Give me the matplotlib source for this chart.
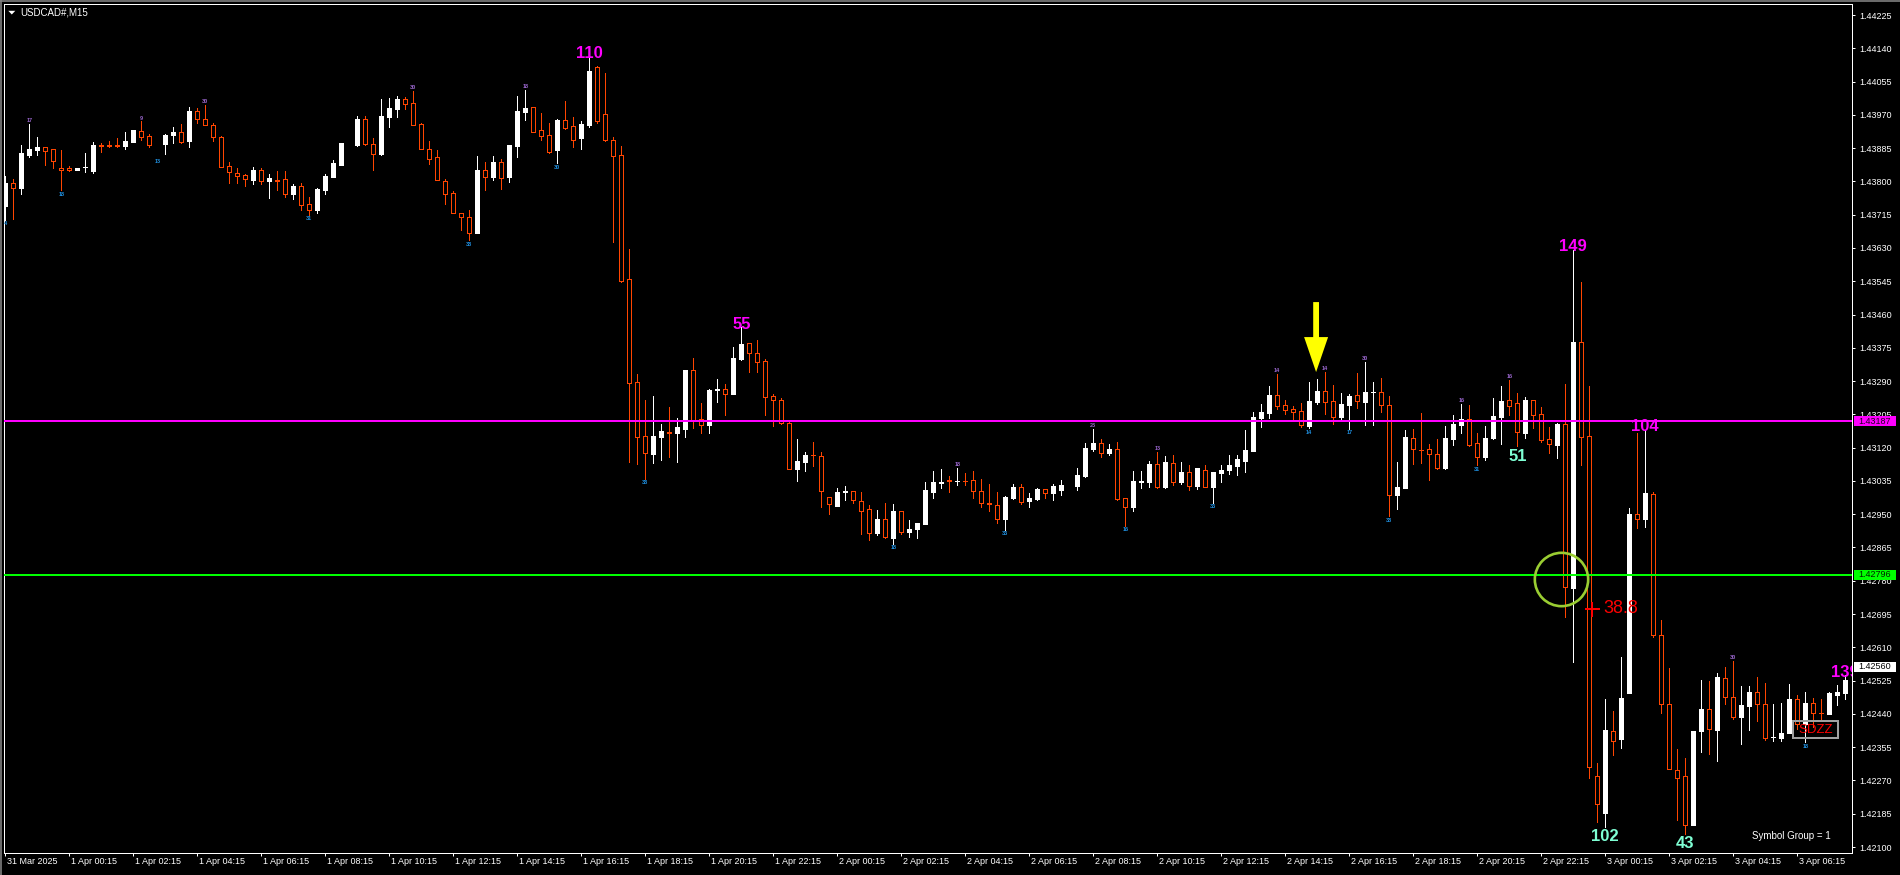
import numpy as np
import pandas as pd
import matplotlib
matplotlib.use('Agg')
import matplotlib.pyplot as plt
import matplotlib.transforms as mtransforms
from matplotlib.patches import Rectangle, Polygon
from matplotlib.lines import Line2D

plt.rcParams['font.family'] = ['Liberation Sans', 'DejaVu Sans']

nan = float('nan')
symbol = 'USDCAD#,M15'
start_time = '2025-03-31 22:15'

opens = [
    1.43736, 1.43795, 1.43782, 1.43868, 1.43881, 1.43887, 1.43882, 1.43834, 1.43834, 1.43829,
    1.43836, 1.43827, 1.43893, 1.43893, 1.43893, 1.43890, 1.43901, 1.43930, 1.43915, nan,
    1.43895, 1.43919, 1.43925, 1.43902, 1.43979, 1.43959, 1.43944, 1.43914, 1.43840, 1.43821,
    1.43816, 1.43803, 1.43828, 1.43801, 1.43804, 1.43806, 1.43768, 1.43788, 1.43742, 1.43726,
    1.43778, 1.43812, 1.43843, nan, 1.43894, 1.43959, 1.43895, 1.43871, 1.43965, 1.43986,
    1.44010, 1.43999, 1.43946, 1.43882, 1.43862, 1.43802, 1.43770, 1.43719, 1.43708, 1.43667,
    1.43830, 1.43811, 1.43849, 1.43810, 1.43891, 1.43977, 1.43989, 1.43931, 1.43919, 1.43879,
    1.43956, 1.43941, 1.43910, 1.43943, 1.44091, 1.43971, 1.43906, 1.43867, 1.43551, 1.43287,
    1.43149, 1.43105, 1.43148, 1.43161, 1.43157, 1.43168, 1.43318, 1.43192, 1.43178, 1.43266,
    1.43270, 1.43257, 1.43346, 1.43387, 1.43363, 1.43341, 1.43252, 1.43242, 1.43184, 1.43066,
    1.43083, 1.43101, 1.43099, 1.42993, 1.42972, 1.43006, 1.43009, 1.42983, 1.42963, 1.42902,
    1.42937, 1.42890, 1.42958, 1.42905, 1.42912, 1.42925, 1.43007, 1.43030, 1.43037, 1.43034,
    1.43036, 1.43037, 1.43009, 1.42978, 1.42973, 1.42938, 1.42991, 1.43020, 1.42985, 1.42989,
    1.43014, 1.43004, 1.43012, nan, 1.43022, 1.43047, 1.43117, 1.43132, 1.43106, 1.43117,
    1.42991, 1.42968, 1.43031, 1.43032, 1.43078, 1.43020, 1.43081, 1.43032, 1.43058, 1.43022,
    1.43063, 1.43020, 1.43055, 1.43063, 1.43073, 1.43086, 1.43112, 1.43196, 1.43209, 1.43254,
    1.43228, 1.43219, 1.43214, 1.43175, 1.43237, 1.43265, 1.43239, 1.43198, 1.43229, 1.43254,
    1.43237, 1.43261, 1.43262, 1.43229, 1.42999, 1.43017, 1.43145, 1.43115, 1.43116, 1.43103,
    1.43068, 1.43142, 1.43178, 1.43192, 1.43131, 1.43096, 1.43145, 1.43198, 1.43241, 1.43233,
    1.43157, 1.43241, 1.43205, 1.43141, 1.43127, 1.43180, 1.42762, 1.43389, 1.43149, 1.42281,
    1.42188, 1.42397, 1.42377, 1.42494, 1.42950, 1.42937, 1.43001, 1.42642, 1.42466, 1.42297,
    1.42281, 1.42156, 1.42397, 1.42453, 1.42399, 1.42531, 1.42483, 1.42433, 1.42460, 1.42495,
    1.42465, 1.42380, 1.42379, 1.42392, 1.42477, 1.42414, 1.42468, 1.42443, 1.42440, 1.42488,
    1.42494,
]
highs = [
    1.43813, 1.43807, 1.43893, 1.43946, 1.43913, 1.43888, 1.43883, 1.43880, 1.43840, 1.43834,
    1.43872, 1.43900, 1.43897, 1.43902, 1.43910, 1.43926, 1.43931, 1.43953, 1.43922, nan,
    1.43920, 1.43938, 1.43946, 1.43989, 1.43987, 1.43995, 1.43949, 1.43915, 1.43850, 1.43834,
    1.43820, 1.43837, 1.43833, 1.43818, 1.43826, 1.43827, 1.43793, 1.43796, 1.43760, 1.43782,
    1.43818, 1.43855, 1.43898, nan, 1.43967, 1.43967, 1.43910, 1.44010, 1.44013, 1.44017,
    1.44015, 1.44031, 1.43949, 1.43903, 1.43879, 1.43806, 1.43775, 1.43719, 1.43726, 1.43866,
    1.43850, 1.43864, 1.43856, 1.43893, 1.44018, 1.44033, 1.43989, 1.43975, 1.43949, 1.43959,
    1.44005, 1.43965, 1.43954, 1.44118, 1.44096, 1.44078, 1.43914, 1.43890, 1.43627, 1.43308,
    1.43242, 1.43252, 1.43180, 1.43224, 1.43196, 1.43318, 1.43349, 1.43234, 1.43270, 1.43295,
    1.43283, 1.43377, 1.43427, 1.43387, 1.43395, 1.43346, 1.43256, 1.43247, 1.43191, 1.43142,
    1.43109, 1.43134, 1.43109, 1.42993, 1.43017, 1.43022, 1.43009, 1.43007, 1.42974, 1.42961,
    1.42979, 1.42976, 1.42958, 1.42935, 1.42928, 1.43032, 1.43061, 1.43066, 1.43047, 1.43068,
    1.43054, 1.43061, 1.43040, 1.43027, 1.43007, 1.42997, 1.43027, 1.43027, 1.43004, 1.43017,
    1.43014, 1.43027, 1.43037, nan, 1.43068, 1.43131, 1.43168, 1.43142, 1.43129, 1.43134,
    1.42991, 1.43061, 1.43061, 1.43086, 1.43109, 1.43099, 1.43101, 1.43083, 1.43076, 1.43068,
    1.43076, 1.43058, 1.43076, 1.43101, 1.43101, 1.43165, 1.43211, 1.43232, 1.43278, 1.43308,
    1.43242, 1.43226, 1.43234, 1.43288, 1.43295, 1.43313, 1.43280, 1.43260, 1.43257, 1.43311,
    1.43339, 1.43288, 1.43298, 1.43252, 1.43083, 1.43165, 1.43168, 1.43209, 1.43129, 1.43141,
    1.43175, 1.43203, 1.43232, 1.43229, 1.43157, 1.43175, 1.43247, 1.43278, 1.43293, 1.43260,
    1.43249, 1.43241, 1.43224, 1.43173, 1.43183, 1.43283, 1.43625, 1.43543, 1.43278, 1.42315,
    1.42477, 1.42447, 1.42586, 1.42967, 1.43157, 1.43165, 1.43007, 1.42680, 1.42557, 1.42350,
    1.42327, 1.42396, 1.42527, 1.42524, 1.42544, 1.42559, 1.42575, 1.42511, 1.42512, 1.42534,
    1.42518, 1.42466, 1.42468, 1.42516, 1.42488, 1.42495, 1.42480, 1.42478, 1.42497, 1.42515,
    1.42539,
]
lows = [
    1.43702, 1.43704, 1.43767, 1.43863, 1.43868, 1.43843, 1.43833, 1.43777, 1.43826, 1.43829,
    1.43825, 1.43821, 1.43876, 1.43888, 1.43888, 1.43883, 1.43901, 1.43907, 1.43888, nan,
    1.43870, 1.43899, 1.43899, 1.43889, 1.43950, 1.43943, 1.43902, 1.43836, 1.43795, 1.43796,
    1.43789, 1.43794, 1.43794, 1.43758, 1.43779, 1.43761, 1.43756, 1.43727, 1.43715, 1.43720,
    1.43769, 1.43810, 1.43841, nan, 1.43891, 1.43894, 1.43828, 1.43868, 1.43939, 1.43965,
    1.43985, 1.43943, 1.43882, 1.43845, 1.43803, 1.43743, 1.43719, 1.43677, 1.43650, 1.43667,
    1.43778, 1.43803, 1.43781, 1.43799, 1.43862, 1.43957, 1.43925, 1.43906, 1.43873, 1.43846,
    1.43935, 1.43889, 1.43884, 1.43938, 1.43948, 1.43902, 1.43646, 1.43543, 1.43084, 1.43078,
    1.43040, 1.43082, 1.43089, 1.43096, 1.43083, 1.43148, 1.43171, 1.43157, 1.43157, 1.43237,
    1.43203, 1.43257, 1.43344, 1.43314, 1.43314, 1.43203, 1.43176, 1.43180, 1.43066, 1.43035,
    1.43061, 1.43074, 1.42969, 1.42951, 1.42972, 1.42986, 1.42979, 1.42900, 1.42885, 1.42897,
    1.42888, 1.42874, 1.42900, 1.42892, 1.42890, 1.42925, 1.42992, 1.43017, 1.43007, 1.43025,
    1.43025, 1.42992, 1.42969, 1.42958, 1.42928, 1.42910, 1.42988, 1.42976, 1.42968, 1.42986,
    1.42991, 1.42986, 1.42999, nan, 1.43012, 1.43045, 1.43112, 1.43097, 1.43101, 1.42986,
    1.42920, 1.42958, 1.43017, 1.43020, 1.43017, 1.43017, 1.43025, 1.43027, 1.43012, 1.43014,
    1.43020, 1.42979, 1.43032, 1.43053, 1.43050, 1.43058, 1.43112, 1.43173, 1.43196, 1.43219,
    1.43206, 1.43188, 1.43173, 1.43170, 1.43232, 1.43206, 1.43180, 1.43193, 1.43168, 1.43221,
    1.43178, 1.43178, 1.43211, 1.42945, 1.42963, 1.43017, 1.43078, 1.43080, 1.43037, 1.43066,
    1.43066, 1.43127, 1.43157, 1.43124, 1.43075, 1.43089, 1.43142, 1.43129, 1.43203, 1.43124,
    1.43145, 1.43170, 1.43134, 1.43106, 1.43094, 1.42687, 1.42573, 1.43076, 1.42276, 1.42163,
    1.42152, 1.42336, 1.42354, 1.42494, 1.42914, 1.42918, 1.42637, 1.42443, 1.42299, 1.42169,
    1.42134, 1.42156, 1.42342, 1.42337, 1.42319, 1.42465, 1.42428, 1.42362, 1.42399, 1.42423,
    1.42374, 1.42370, 1.42370, 1.42392, 1.42401, 1.42367, 1.42406, 1.42428, 1.42440, 1.42462,
    1.42478,
]
closes = [
    1.43796, 1.43782, 1.43872, 1.43883, 1.43888, 1.43878, 1.43851, 1.43829, 1.43829, 1.43834,
    1.43838, 1.43893, 1.43891, 1.43891, 1.43891, 1.43902, 1.43931, 1.43914, 1.43893, nan,
    1.43918, 1.43926, 1.43901, 1.43980, 1.43959, 1.43943, 1.43913, 1.43838, 1.43823, 1.43814,
    1.43805, 1.43828, 1.43801, 1.43808, 1.43802, 1.43769, 1.43789, 1.43739, 1.43726, 1.43780,
    1.43813, 1.43847, 1.43898, nan, 1.43959, 1.43895, 1.43869, 1.43967, 1.43988, 1.44010,
    1.43998, 1.43945, 1.43882, 1.43858, 1.43803, 1.43769, 1.43719, 1.43708, 1.43667, 1.43828,
    1.43812, 1.43850, 1.43809, 1.43893, 1.43980, 1.43987, 1.43927, 1.43917, 1.43875, 1.43957,
    1.43937, 1.43907, 1.43947, 1.44082, 1.43953, 1.43907, 1.43866, 1.43546, 1.43286, 1.43148,
    1.43107, 1.43149, 1.43162, 1.43158, 1.43173, 1.43318, 1.43191, 1.43179, 1.43267, 1.43269,
    1.43258, 1.43349, 1.43385, 1.43362, 1.43340, 1.43250, 1.43242, 1.43184, 1.43066, 1.43086,
    1.43101, 1.43100, 1.43010, 1.42977, 1.43007, 1.43009, 1.42987, 1.42957, 1.42903, 1.42938,
    1.42893, 1.42958, 1.42905, 1.42912, 1.42928, 1.43012, 1.43032, 1.43032, 1.43035, 1.43036,
    1.43034, 1.43008, 1.42979, 1.42976, 1.42938, 1.42994, 1.43020, 1.42980, 1.42991, 1.43014,
    1.43004, 1.43022, 1.43025, nan, 1.43050, 1.43119, 1.43132, 1.43107, 1.43117, 1.42989,
    1.42969, 1.43035, 1.43034, 1.43078, 1.43020, 1.43083, 1.43032, 1.43058, 1.43022, 1.43068,
    1.43020, 1.43058, 1.43063, 1.43076, 1.43091, 1.43114, 1.43198, 1.43211, 1.43254, 1.43227,
    1.43216, 1.43212, 1.43179, 1.43239, 1.43265, 1.43237, 1.43199, 1.43232, 1.43252, 1.43240,
    1.43262, 1.43263, 1.43230, 1.43000, 1.43020, 1.43147, 1.43117, 1.43113, 1.43103, 1.43068,
    1.43145, 1.43180, 1.43193, 1.43127, 1.43096, 1.43144, 1.43201, 1.43239, 1.43227, 1.43161,
    1.43242, 1.43204, 1.43140, 1.43129, 1.43180, 1.42765, 1.43390, 1.43148, 1.42304, 1.42209,
    1.42399, 1.42372, 1.42480, 1.42950, 1.42938, 1.43003, 1.42641, 1.42466, 1.42299, 1.42277,
    1.42156, 1.42396, 1.42453, 1.42401, 1.42533, 1.42484, 1.42433, 1.42462, 1.42495, 1.42466,
    1.42379, 1.42382, 1.42392, 1.42478, 1.42414, 1.42468, 1.42443, 1.42442, 1.42494, 1.42495,
    1.42527,
]

# horizontal levels and current bid
level_magenta = 1.43187
level_green = 1.42796
bid_price = 1.42560

# price axis labels
ytick_labels = ['1.44225', '1.44140', '1.44055', '1.43970', '1.43885', '1.43800', '1.43715',
                '1.43630', '1.43545', '1.43460', '1.43375', '1.43290', '1.43205', '1.43120',
                '1.43035', '1.42950', '1.42865', '1.42780', '1.42695', '1.42610', '1.42525',
                '1.42440', '1.42355', '1.42270', '1.42185', '1.42100']

# swing labels (bar index -> text)
small_high_labels = {3: '17', 17: '9', 25: '30', 51: '30', 65: '18', 119: '18', 136: '23',
                     144: '13', 159: '14', 165: '14', 170: '30', 182: '16', 188: '16', 216: '30'}
small_low_labels = {0: '4', 7: '18', 38: '31', 58: '38', 69: '30', 80: '38', 111: '18',
                    125: '33', 140: '16', 151: '33', 163: '14', 168: '17', 173: '38',
                    184: '31', 225: '18'}
ghost_low_label = (19, '13', 1.43862)
big_high_labels = {73: '110', 92: '55', 196: '149', 205: '104', 230: '139'}
big_low_labels = {189: '51', 200: '102', 210: '43'}

# other annotations
circle_pos = (194.46, 1.427845)
fib_pos = (198.33, 1.42708)
fib_text = '38.8'
arrow_tip = (163.85, 1.43313)
sdzz_box = (223.43, 1.423776, 229.13, 1.424226)
sdzz_text = 'SDZZ'
group_text = 'Symbol Group = 1'

# ---------------------------------------------------------------
W, H = 1900, 875
AX_L, AX_R, AX_T, AX_B = 4, 1852, 4, 853
ORANGE = '#FF4500'

fig = plt.figure(figsize=(W / 100, H / 100), dpi=100, facecolor='black')
ax = fig.add_axes([AX_L / W, 1 - AX_B / H, (AX_R - AX_L) / W, (AX_B - AX_T) / H])
ax.set_facecolor('black')

o = np.array(opens)
h = np.array(highs)
l = np.array(lows)
c = np.array(closes)
n = len(o)
x = np.arange(n)

xmin = -0.1625
xmax = xmin + (AX_R - AX_L) / 8.0
ymin, ymax = 1.420847, 1.442531
ax.set_xlim(xmin, xmax)
ax.set_ylim(ymin, ymax)
px_x = (xmax - xmin) / (AX_R - AX_L)
px_y = (ymax - ymin) / (AX_B - AX_T)

valid = ~np.isnan(o)
bull = valid & (c >= o)
bear = valid & (c < o)
LW = 0.72
BW = 0.52

ax.vlines(x[bull], l[bull], h[bull], color='white', lw=LW, zorder=2, antialiased=False)
ax.vlines(x[bear], l[bear], h[bear], color=ORANGE, lw=LW, zorder=2, antialiased=False)
ax.bar(x[bull], c[bull] - o[bull], bottom=o[bull], width=BW, facecolor='white',
       edgecolor='white', lw=LW, zorder=3, antialiased=False)
ax.bar(x[bear], o[bear] - c[bear], bottom=c[bear], width=BW, facecolor='black',
       edgecolor=ORANGE, lw=LW, zorder=3, antialiased=False)

ax.axhline(level_magenta, color='#FF00FF', lw=1.44, zorder=4)
ax.axhline(level_green, color='#00FF00', lw=1.44, zorder=4)

# axes styling
for s in ax.spines.values():
    s.set_color('white')
    s.set_linewidth(LW)

ax.yaxis.tick_right()
ax.set_yticks([float(v) for v in ytick_labels])
ax.set_yticklabels(ytick_labels)
ax.tick_params(axis='y', colors='white', labelsize=6.5, length=2.2, width=LW, pad=2.9)

times = pd.date_range(start_time, periods=n, freq='15min')
xt = list(range(0, n, 8))
xl = ['31 Mar 2025' if i == 0 else f"{times[i].day} {times[i]:%b %H:%M}" for i in xt]
ax.set_xticks(xt)
ax.set_xticklabels(xl, ha='left')
ax.tick_params(axis='x', colors='white', labelsize=6.5, length=2.2, width=LW, pad=1)
shift = mtransforms.ScaledTranslation(2 / 100, 0, fig.dpi_scale_trans)
for lbl in ax.get_xticklabels():
    lbl.set_transform(lbl.get_transform() + shift)

# price boxes on the axis
btrans = mtransforms.blended_transform_factory(ax.transAxes, ax.transData)
bx0 = (1854 - AX_L) / (AX_R - AX_L)
bx1 = (1896 - AX_L) / (AX_R - AX_L)


def price_box(price, fc, tc):
    hh = 5 * px_y
    ax.add_patch(Rectangle((bx0, price - hh), bx1 - bx0, 2 * hh, transform=btrans,
                           facecolor=fc, edgecolor='none', clip_on=False, zorder=6))
    ax.text((bx0 + bx1) / 2, price, f'{price:.5f}', transform=btrans, ha='center',
            va='center', fontsize=6.5, color=tc, zorder=7, clip_on=False)


price_box(level_magenta, '#FF00FF', '#200020')
price_box(level_green, '#00FF00', '#002000')
price_box(bid_price, 'white', 'black')

# small swing labels
for i, t in small_high_labels.items():
    ax.annotate(t, (i, h[i]), xytext=(0, 2.5), textcoords='offset points', ha='center',
                va='center', fontsize=4, color='#9966CC', fontweight='bold', zorder=5)
for i, t in small_low_labels.items():
    ax.annotate(t, (i, l[i]), xytext=(0, -2.9), textcoords='offset points', ha='center',
                va='center', fontsize=4, color='#2090E0', fontweight='bold', zorder=5)
gi, gt, gp = ghost_low_label
ax.annotate(gt, (gi, gp), xytext=(0, -2.9), textcoords='offset points', ha='center',
            va='center', fontsize=4, color='#2090E0', fontweight='bold', zorder=5)

for i, t in big_high_labels.items():
    a = ax.annotate(t, (i, h[i]), xytext=(0, 2.2), textcoords='offset points', ha='center',
                    va='center', fontsize=12, color='#FF00FF', fontweight='bold', zorder=5)
    a.set_clip_on(True)
    a.set_clip_box(ax.bbox)
for i, t in big_low_labels.items():
    ax.annotate(t, (i, l[i]), xytext=(0, -7.2), textcoords='offset points', ha='center',
                va='center', fontsize=12, color='#7FFFD4', fontweight='bold', zorder=5)

# circle, fib cross, arrow, box
ax.plot(*circle_pos, 'o', ms=38.4, mfc='none', mec='#9ACD32', mew=1.9, zorder=6)
ax.plot(*fib_pos, marker='+', ms=10.8, mew=1.44, color='red', zorder=6)
ax.text(fib_pos[0] + 11.5 * px_x, fib_pos[1], fib_text, ha='left', va='center',
        fontsize=13, color='red', zorder=6)

tx, ty = arrow_tip
arrow_px = [(0, 0), (12, 35), (2.9, 35), (2.9, 70), (-2.9, 70), (-2.9, 35), (-12, 35)]
ax.add_patch(Polygon([(tx + dx * px_x, ty + dy * px_y) for dx, dy in arrow_px], closed=True,
                     facecolor='#FFFF00', edgecolor='none', zorder=7))

sx0, sy0, sx1, sy1 = sdzz_box
ax.add_patch(Rectangle((sx0, sy0), sx1 - sx0, sy1 - sy0, facecolor='none',
                       edgecolor='#A0A0A0', lw=1.44, zorder=6))
ax.text((sx0 + sx1) / 2, (sy0 + sy1) / 2, sdzz_text, ha='center', va='center',
        fontsize=9.5, color='red', zorder=7)

# figure-level texts
def fpx(px, py):
    return px / W, 1 - py / H


fig.text(*fpx(1752, 836), group_text, ha='left', va='center', fontsize=7, color='white')
fig.text(*fpx(20.7, 12.5), symbol, ha='left', va='center', fontsize=7, color='white')
tri = [fpx(8.3, 10.8), fpx(15.3, 10.8), fpx(11.8, 14.5)]
fig.add_artist(Polygon(tri, closed=True, transform=fig.transFigure, facecolor='white',
                       edgecolor='none'))
fig.add_artist(Line2D([0, 1], [1 - 0.8 / H] * 2, transform=fig.transFigure,
                      color='#808080', lw=1.2))
fig.add_artist(Line2D([0.8 / W] * 2, [0, 1], transform=fig.transFigure,
                      color='#808080', lw=1.2))

fig.savefig('out.png', dpi=100, facecolor='black')
